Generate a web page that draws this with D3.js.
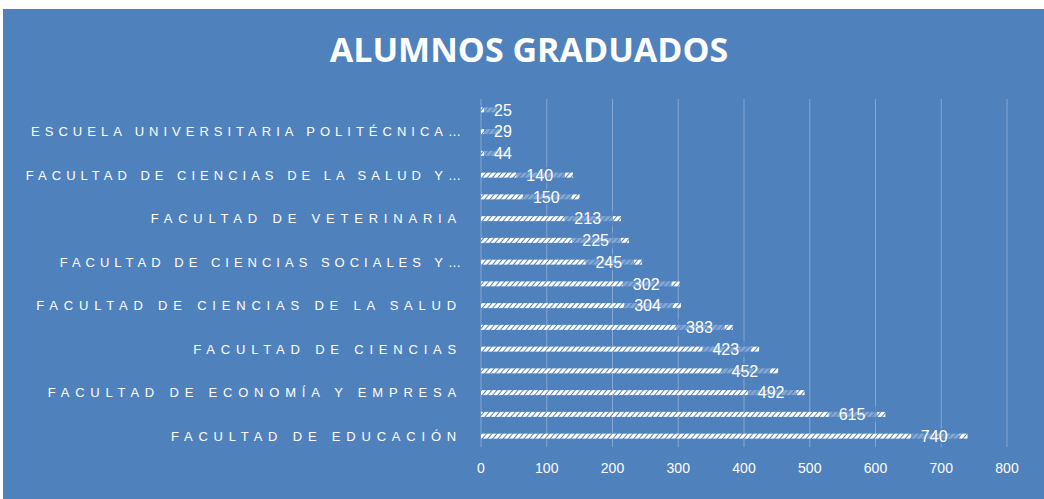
<!DOCTYPE html>
<html><head><meta charset="utf-8">
<script src="https://cdn.jsdelivr.net/npm/d3@7"></script>
<style>html,body{margin:0;padding:0;background:#fff;}svg{display:block;}</style>
</head><body>
<svg id="c" width="1044" height="499"></svg>
<script>
// Categories, bottom to top (every other one is labelled on the axis, as in the original)
const categories = [
  "FACULTAD DE EDUCACIÓN",
  "ESCUELA DE INGENIERÍA Y ARQUITECTURA",
  "FACULTAD DE ECONOMÍA Y EMPRESA",
  "FACULTAD DE FILOSOFÍA Y LETRAS",
  "FACULTAD DE CIENCIAS",
  "FACULTAD DE MEDICINA",
  "FACULTAD DE CIENCIAS DE LA SALUD",
  "FACULTAD DE DERECHO",
  "FACULTAD DE CIENCIAS SOCIALES Y DEL TRABAJO",
  "FACULTAD DE CIENCIAS HUMANAS Y DE LA EDUCACIÓN",
  "FACULTAD DE VETERINARIA",
  "FACULTAD DE EMPRESA Y GESTIÓN PÚBLICA",
  "FACULTAD DE CIENCIAS DE LA SALUD Y DEL DEPORTE",
  "ESCUELA POLITÉCNICA SUPERIOR",
  "ESCUELA UNIVERSITARIA POLITÉCNICA DE LA ALMUNIA",
  "ESCUELA UNIVERSITARIA DE TURISMO"
];
const values = [740, 615, 492, 452, 423, 383, 304, 302, 245, 225, 213, 150, 140, 44, 29, 25];
const axisLabels = [
  "FACULTAD DE EDUCACIÓN",
  "FACULTAD DE ECONOMÍA Y EMPRESA",
  "FACULTAD DE CIENCIAS",
  "FACULTAD DE CIENCIAS DE LA SALUD",
  "FACULTAD DE CIENCIAS SOCIALES Y…",
  "FACULTAD DE VETERINARIA",
  "FACULTAD DE CIENCIAS DE LA SALUD Y…",
  "ESCUELA UNIVERSITARIA POLITÉCNICA…"
];
const xTicks = [0, 100, 200, 300, 400, 500, 600, 700, 800];
const title = "ALUMNOS GRADUADOS";

const BG = "#4f81bd";
const svg = d3.select("#c");
svg.append("rect").attr("x", 3).attr("y", 9).attr("width", 1041).attr("height", 490).attr("fill", BG);

const defs = svg.append("defs");
const pat = defs.append("pattern").attr("id", "hatch").attr("patternUnits", "userSpaceOnUse")
  .attr("width", 4).attr("height", 4).attr("patternTransform", "rotate(40)");
pat.append("rect").attr("width", 4).attr("height", 4).attr("fill", BG);
pat.append("rect").attr("width", 3).attr("height", 4).attr("fill", "#ffffff");

const x = d3.scaleLinear().domain([0, 800]).range([481, 1007]);
const y = d3.scaleBand().domain(categories.slice().reverse()).range([99, 447])
  .paddingInner(0.77).paddingOuter(0.385);

// gridlines
svg.append("g").selectAll("line").data(xTicks).join("line")
  .attr("x1", d => x(d)).attr("x2", d => x(d)).attr("y1", 99).attr("y2", 447)
  .attr("stroke", "#86a7d3").attr("stroke-width", 1);

// bars
svg.append("g").selectAll("rect").data(categories).join("rect")
  .attr("x", x(0)).attr("y", d => y(d))
  .attr("width", (d, i) => x(values[i]) - x(0)).attr("height", y.bandwidth())
  .attr("fill", "url(#hatch)");

// data labels with semi-transparent box
const lab = svg.append("g");
categories.forEach((c, i) => {
  const v = values[i];
  const cy = y(c) + y.bandwidth() / 2;
  let end = x(v) - 20;
  const t = lab.append("text").text(v)
    .attr("font-family", "Liberation Sans, Arial, sans-serif").attr("font-size", 16)
    .attr("fill", "#fff").attr("dy", "0.36em").attr("y", cy);
  const w = t.node().getComputedTextLength();
  let start = Math.max(end - w, 494);
  t.attr("x", start);
  lab.insert("rect", "text").attr("x", start - 10).attr("y", cy - 8).attr("width", w + 22).attr("height", 16)
    .attr("fill", BG).attr("opacity", 0.7);
});

// y axis labels (every other category)
const yl = svg.append("g");
categories.forEach((c, i) => {
  if (i % 2 !== 0) return;
  const lbl = axisLabels[i / 2];
  const trunc = lbl.endsWith("…");
  yl.append("text").text(lbl)
    .attr("x", trunc ? 466 : 462).attr("y", y(c) + y.bandwidth() / 2).attr("dy", "0.36em")
    .attr("text-anchor", "end")
    .attr("font-family", "Liberation Sans, Arial, sans-serif").attr("font-size", 13)
    .attr("letter-spacing", trunc ? "5px" : "5.8px").attr("fill", "#fff");
});

// x axis tick labels
svg.append("g").selectAll("text").data(xTicks).join("text")
  .attr("x", d => x(d)).attr("y", 468).attr("dy", "0.36em").attr("text-anchor", "middle")
  .attr("font-family", "Liberation Sans, Arial, sans-serif").attr("font-size", 14)
  .attr("fill", "#fff").text(d => d);

// title
svg.append("text").attr("x", 529).attr("y", 50).attr("dy", "0.36em").attr("text-anchor", "middle")
  .attr("font-family", "Open Sans, Liberation Sans, sans-serif").attr("font-weight", "bold").attr("font-size", 34)
  .attr("fill", "#fff").text(title);
</script>
</body></html>
